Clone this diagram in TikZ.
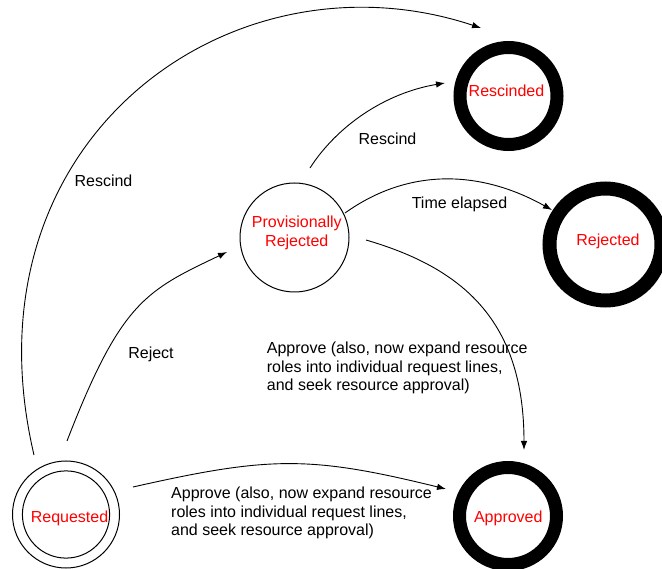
\documentclass[tikz,border=0pt]{standalone}
\usepackage{fontspec}
\setmainfont{Liberation Sans}
\usetikzlibrary{arrows.meta,calc}
\definecolor{statered}{RGB}{255,0,0}
\tikzset{
  thinstate/.style={circle, draw=black, line width=1pt, inner sep=0pt},
  finalstate/.style={circle, draw=black, inner sep=0pt},
  statetext/.style={text=statered, font=\fontsize{16}{18.6}\selectfont, inner sep=0pt},
  lbl/.style={text=black, font=\fontsize{16}{18.6}\selectfont, inner sep=0pt},
  arr/.style={draw=black, line width=0.9pt, -{Latex[length=9pt,width=6.5pt]}}
}
\begin{document}
\begin{tikzpicture}[x=1pt,y=-1pt]
\useasboundingbox (0,0) rectangle (662,569);
\fill[white] (0,0) rectangle (662,569);

% states
\node[thinstate, minimum size=107pt] (req) at (66,514.5) {};
\draw[line width=1pt] (req.center) circle[radius=43.6];
\node[thinstate, minimum size=109pt] (prov) at (294.5,237.5) {};
\node[finalstate, line width=13pt, minimum size=97pt] (resc) at (508.5,96) {};
\node[finalstate, line width=14pt, minimum size=112pt] (rej) at (605.5,244.5) {};
\node[finalstate, line width=13pt, minimum size=97pt] (appr) at (508,516) {};

% state texts
\node[statetext, anchor=base] (reqt) at (69.5,522.5) {Requested};
\node[statetext, anchor=center, align=center] (provt) at (296.8,233) {Provisionally\\Rejected};
\node[statetext, anchor=base] (resct) at (506.5,96.5) {Rescinded};
\node[statetext, anchor=base] (rejt) at (608,245.5) {Rejected};
\node[statetext, anchor=base] (apprt) at (508.3,522.5) {Approved};

% connectors
\draw[arr] ($(req)+(-32,-59.5)$) .. controls (-40,140) and (231,-55) .. ($(resc)+(-27.5,-68)$);
\draw[arr] ($(req)+(1,-73.5)$) .. controls (121,301.5) and (146,290.7) .. ($(prov)+(-67.5,14.5)$);
\draw[arr] ($(req)+(67,-27.5)$) .. controls (269.5,456.2) and (309.2,455.4) .. ($(appr)+(-62,-27)$);
\draw[arr] ($(prov)+(15.5,-69.5)$) .. controls (337,126) and (385,93) .. ($(resc)+(-63.5,-13)$);
\draw[arr] ($(prov)+(50.5,-24.5)$) .. controls (410,166.6) and (482,170.8) .. ($(rej)+(-53.5,-34.5)$);
\draw[arr] ($(prov)+(71.5,2.5)$) .. controls (462,268) and (524,320) .. ($(appr)+(16,-66)$);

% connector labels
\node[lbl, anchor=base] (l1) at (103.5,186.5) {Rescind};
\node[lbl, anchor=base] (l2) at (151,359) {Reject};
\node[lbl, anchor=base] (l4) at (387.5,144.5) {Rescind};
\node[lbl, anchor=base] (l5) at (459.5,209) {Time elapsed};
\node[lbl, anchor=base west, align=left] (l6) at (266.7,391) {Approve (also, now expand resource\\roles into individual request lines,\\and seek resource approval)};
\node[lbl, anchor=base west, align=left] (l3) at (171,536) {Approve (also, now expand resource\\roles into individual request lines,\\and seek resource approval)};
\end{tikzpicture}
\end{document}
